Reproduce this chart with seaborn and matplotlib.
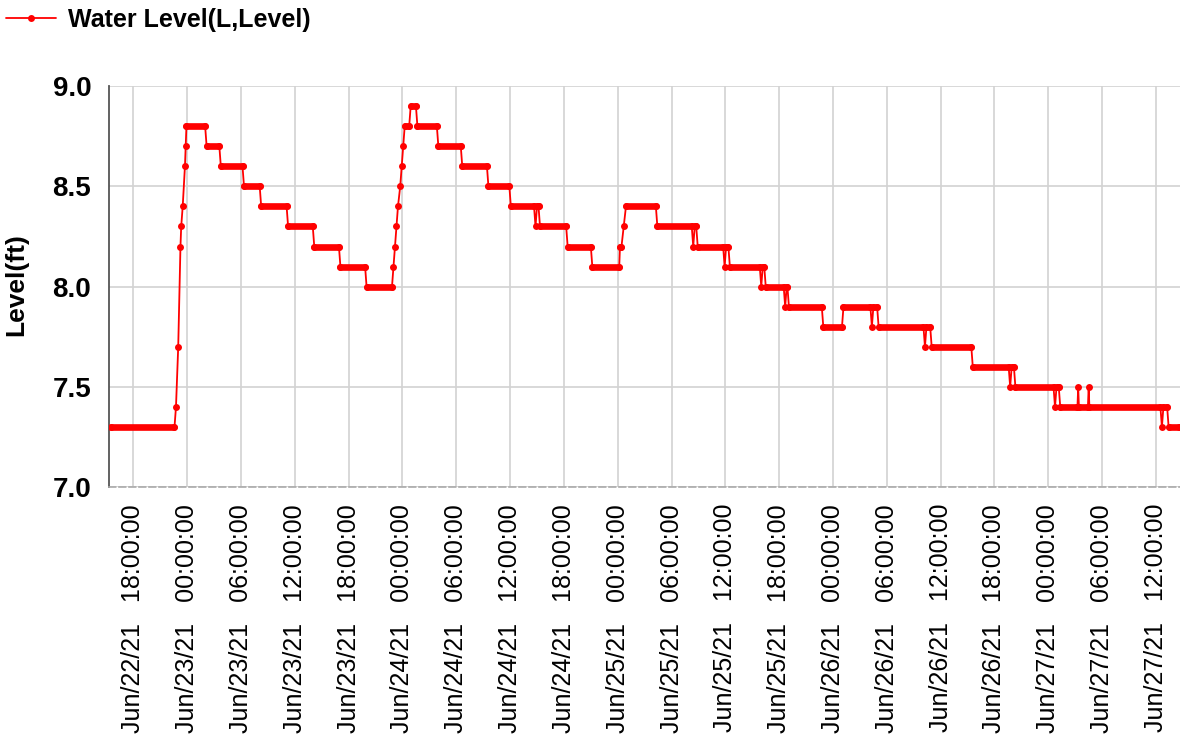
import matplotlib
matplotlib.use("Agg")
import matplotlib.pyplot as plt
import matplotlib.dates as mdates
import seaborn as sns
import pandas as pd

# ---- data: logger readings (run start/end points and single readings) ----
times = [
    "2021-06-22 15:30", "2021-06-22 22:35",
    "2021-06-22 22:45", "2021-06-22 23:00", "2021-06-22 23:15", "2021-06-22 23:20",
    "2021-06-22 23:30", "2021-06-22 23:45", "2021-06-22 23:50", "2021-06-22 23:55",
    "2021-06-23 02:00", "2021-06-23 02:10", "2021-06-23 03:35", "2021-06-23 03:45",
    "2021-06-23 06:10", "2021-06-23 06:20", "2021-06-23 08:05", "2021-06-23 08:15",
    "2021-06-23 11:05", "2021-06-23 11:15", "2021-06-23 14:00", "2021-06-23 14:10",
    "2021-06-23 16:55", "2021-06-23 17:05", "2021-06-23 19:50", "2021-06-23 20:00",
    "2021-06-23 22:50",
    "2021-06-23 23:00", "2021-06-23 23:10", "2021-06-23 23:20", "2021-06-23 23:30",
    "2021-06-23 23:45", "2021-06-23 23:55", "2021-06-24 00:05", "2021-06-24 00:15",
    "2021-06-24 00:45", "2021-06-24 00:55", "2021-06-24 01:30", "2021-06-24 01:40",
    "2021-06-24 03:50", "2021-06-24 04:00", "2021-06-24 06:30", "2021-06-24 06:40",
    "2021-06-24 09:25", "2021-06-24 09:35", "2021-06-24 11:55", "2021-06-24 12:05",
    "2021-06-24 14:40", "2021-06-24 14:50", "2021-06-24 15:00", "2021-06-24 15:10",
    "2021-06-24 15:20", "2021-06-24 18:15", "2021-06-24 18:25", "2021-06-24 21:00",
    "2021-06-24 21:10", "2021-06-25 00:10",
    "2021-06-25 00:15", "2021-06-25 00:25", "2021-06-25 00:40", "2021-06-25 00:55",
    "2021-06-25 04:15", "2021-06-25 04:25", "2021-06-25 08:15",
    "2021-06-25 08:25", "2021-06-25 08:35", "2021-06-25 08:45", "2021-06-25 08:55",
    "2021-06-25 11:45", "2021-06-25 11:55", "2021-06-25 12:05", "2021-06-25 12:20",
    "2021-06-25 12:30", "2021-06-25 15:50", "2021-06-25 16:00", "2021-06-25 16:10",
    "2021-06-25 16:20", "2021-06-25 16:30", "2021-06-25 18:30", "2021-06-25 18:40",
    "2021-06-25 18:50", "2021-06-25 18:55", "2021-06-25 19:05", "2021-06-25 22:45",
    "2021-06-25 22:55", "2021-06-26 01:00", "2021-06-26 01:10", "2021-06-26 04:10",
    "2021-06-26 04:20", "2021-06-26 04:30", "2021-06-26 04:55", "2021-06-26 05:05",
    "2021-06-26 10:05", "2021-06-26 10:15", "2021-06-26 10:25", "2021-06-26 10:50",
    "2021-06-26 11:00", "2021-06-26 15:25", "2021-06-26 15:35", "2021-06-26 19:35",
    "2021-06-26 19:45", "2021-06-26 19:55", "2021-06-26 20:10", "2021-06-26 20:20",
    "2021-06-27 00:35", "2021-06-27 00:45", "2021-06-27 00:55", "2021-06-27 01:10",
    "2021-06-27 01:20", "2021-06-27 03:15", "2021-06-27 03:20", "2021-06-27 03:25",
    "2021-06-27 04:25", "2021-06-27 04:30", "2021-06-27 04:35", "2021-06-27 12:30",
    "2021-06-27 12:40", "2021-06-27 12:50", "2021-06-27 13:15", "2021-06-27 13:25",
    "2021-06-27 14:35",
]
levels = [
    7.3, 7.3,
    7.4, 7.7, 8.2, 8.3,
    8.4, 8.6, 8.7, 8.8,
    8.8, 8.7, 8.7, 8.6,
    8.6, 8.5, 8.5, 8.4,
    8.4, 8.3, 8.3, 8.2,
    8.2, 8.1, 8.1, 8.0,
    8.0,
    8.1, 8.2, 8.3, 8.4,
    8.5, 8.6, 8.7, 8.8,
    8.8, 8.9, 8.9, 8.8,
    8.8, 8.7, 8.7, 8.6,
    8.6, 8.5, 8.5, 8.4,
    8.4, 8.3, 8.4, 8.4,
    8.3, 8.3, 8.2, 8.2,
    8.1, 8.1,
    8.2, 8.2, 8.3, 8.4,
    8.4, 8.3, 8.3,
    8.2, 8.3, 8.3, 8.2,
    8.2, 8.1, 8.2, 8.2,
    8.1, 8.1, 8.0, 8.1,
    8.1, 8.0, 8.0, 7.9,
    8.0, 8.0, 7.9, 7.9,
    7.8, 7.8, 7.9, 7.9,
    7.8, 7.9, 7.9, 7.8,
    7.8, 7.7, 7.8, 7.8,
    7.7, 7.7, 7.6, 7.6,
    7.5, 7.6, 7.6, 7.5,
    7.5, 7.4, 7.5, 7.5,
    7.4, 7.4, 7.5, 7.4,
    7.4, 7.5, 7.4, 7.4,
    7.3, 7.4, 7.4, 7.3,
    7.3,
]
series_name = "Water Level(L,Level)"
y_ticks = [7.0, 7.5, 8.0, 8.5, 9.0]
x_start, x_end = "2021-06-22 15:19", "2021-06-27 14:41"

# ---- style ----
sns.set_style("white")
plt.rcParams['font.family'] = ['Liberation Sans', 'DejaVu Sans']
plt.rcParams['text.color'] = 'black'
plt.rcParams['axes.labelcolor'] = 'black'
plt.rcParams['xtick.labelcolor'] = 'black'
plt.rcParams['ytick.labelcolor'] = 'black'

df = pd.DataFrame({"time": pd.to_datetime(times), "level": levels})

W, H = 1180, 747
fig = plt.figure(figsize=(W / 100, H / 100), dpi=100)
L, R, T, B = 109.3, 1180, 86, 487.3
ax = fig.add_axes([L / W, 1 - B / H, (R - L) / W, (B - T) / H])

# dense runs of readings appear as thick bands
run_id = (df["level"] != df["level"].shift()).cumsum()
for _, g in df.groupby(run_id):
    if len(g) > 1:
        ax.plot(g["time"], g["level"], color="#ff0000", lw=4.8,
                solid_capstyle="round", zorder=3)

sns.lineplot(data=df, x="time", y="level", sort=False, estimator=None,
             color="#ff0000", lw=1.3, marker="o", markersize=5,
             markeredgewidth=0, label=series_name, ax=ax, zorder=4)

ax.set_xlim(pd.Timestamp(x_start), pd.Timestamp(x_end))
ax.set_ylim(7.0, 9.0)

ax.xaxis.set_major_locator(mdates.HourLocator(byhour=[0, 6, 12, 18]))
ax.xaxis.set_major_formatter(mdates.DateFormatter("%b/%d/%y   %H:%M:%S"))
ax.set_yticks(y_ticks)
ax.set_yticklabels([f"{v:.1f}" for v in y_ticks], fontweight="bold", fontsize=20)

ax.grid(True, color="#d2d2d2", lw=1.2)
ax.set_axisbelow(True)
for s in ["top", "right"]:
    ax.spines[s].set_visible(False)
ax.spines["left"].set_color("#555555")
ax.spines["left"].set_linewidth(1.3)
ax.spines["bottom"].set_color("#aaaaaa")
ax.spines["bottom"].set_linestyle((0, (4, 2)))
ax.spines["bottom"].set_linewidth(1.2)

ax.tick_params(axis="y", direction="out", length=7, width=1.3, color="#555555", pad=6)
ax.tick_params(axis="x", direction="out", length=7, width=1.3, color="#333333",
               pad=5, labelsize=18, rotation=90)
for lab in ax.get_xticklabels():
    lab.set_horizontalalignment("center")

ax.set_xlabel("")
ax.set_ylabel("Level(ft)", fontsize=19, fontweight="bold")
ax.yaxis.label.set_verticalalignment("center")
ax.yaxis.set_label_coords((16.5 - L) / (R - L), 0.504)

ax.legend(loc="upper left", bbox_to_anchor=(6 / W, 1 - 8 / H),
          bbox_transform=fig.transFigure, frameon=False, borderaxespad=0,
          borderpad=0, handlelength=2.0, handletextpad=0.5,
          prop=dict(weight="bold", size=18))

fig.savefig("out.png", dpi=100)
